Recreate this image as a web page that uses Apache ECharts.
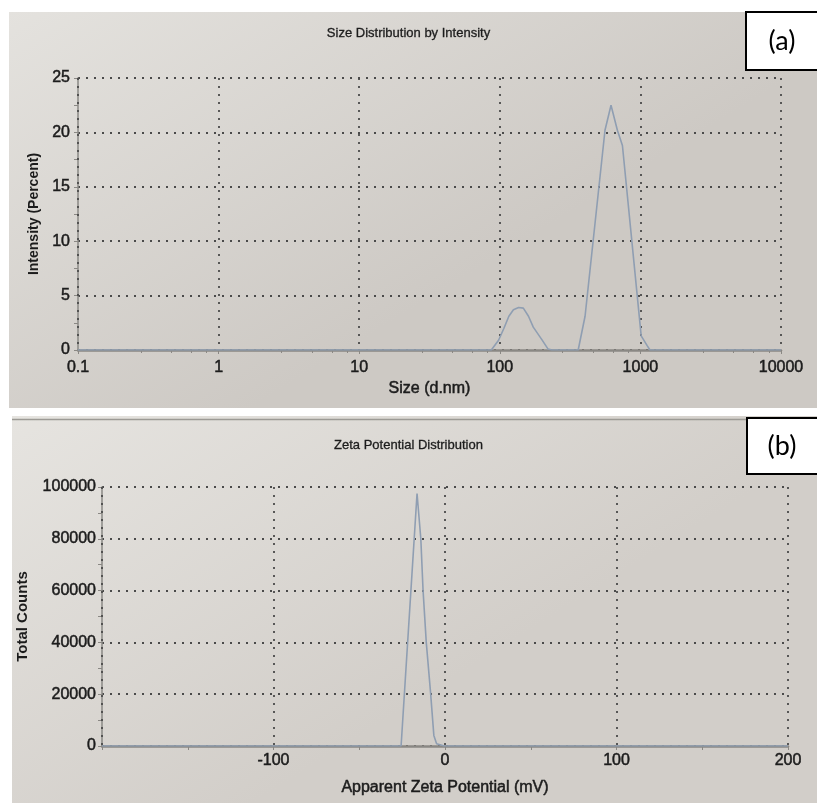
<!DOCTYPE html>
<html>
<head>
<meta charset="UTF-8">
<title>Size / Zeta</title>
<script src="https://cdn.jsdelivr.net/npm/echarts@6/dist/echarts.min.js"></script>
<style>
  html, body { margin: 0; padding: 0; background: #fff; }
  #chart { width: 817px; height: 803px; }
</style>
</head>
<body>
<div id="chart"></div>
<script>
// (a) size distribution, log x axis
const sizeNm = [0.1, 87, 98, 107, 116, 125, 136, 147, 160, 173, 198, 220, 235,
  361, 404, 560, 618, 686, 745, 1013, 1117, 1170, 10000];
const intensity = [0, 0, 0.9, 2.0, 3.1, 3.7, 3.9, 3.85, 3.1, 2.1, 1.0, 0.1, 0,
  0, 3.1, 20.2, 22.5, 20.2, 18.8, 1.3, 0.4, 0, 0];
const sizeTicks = ['0.1', '1', '10', '100', '1000', '10000'];

// (b) zeta potential distribution
const zetaMv = [-200, -25.6, -21.9, -16.3, -14.1, -12.8, -10.9, -8.5, -6.5, -4.9, -0.5, 200];
const totalCounts = [0, 0, 38800, 97500, 80000, 60200, 39800, 21300, 4100, 900, 0, 0];

const chart = echarts.init(document.getElementById('chart'));

const txt = '#1c1c1c';
const axisGray = '#8a8884';
const dotted = { color: '#4a4a4a', type: [2, 6], width: 1.8 };
const curve = '#8f9eb2';
const font = 'Liberation Sans, Arial, sans-serif';
// slightly heavier look for the printed labels
const labelStyle = { fontSize: 16, color: txt, textBorderColor: txt, textBorderWidth: 0.5 };

const option = {
  backgroundColor: '#ffffff',
  animation: false,
  textStyle: { fontFamily: font },
  title: [
    { text: 'Size Distribution by Intensity', left: 'center', top: 22,
      textStyle: { fontSize: 13, fontWeight: 'normal', color: txt, textBorderColor: txt, textBorderWidth: 0.3 } },
    { text: 'Zeta Potential Distribution', left: 'center', top: 434,
      textStyle: { fontSize: 13, fontWeight: 'normal', color: txt, textBorderColor: txt, textBorderWidth: 0.3 } }
  ],
  graphic: [
    { type: 'rect', z: -10, shape: { x: 9, y: 12, width: 808, height: 396 },
      style: { fill: new echarts.graphic.LinearGradient(0, 0, 0.3, 1, [
        { offset: 0, color: '#e4e2de' }, { offset: 1, color: '#cdc9c4' }]) } },
    { type: 'rect', z: -10, shape: { x: 12, y: 416, width: 805, height: 387 },
      style: { fill: new echarts.graphic.LinearGradient(0, 0, 0.3, 1, [
        { offset: 0, color: '#e6e4e0' }, { offset: 1, color: '#d2cec9' }]) } },
    { type: 'line', z: -9, shape: { x1: 12, y1: 419.5, x2: 817, y2: 419.5 },
      style: { stroke: '#9c9a95', lineWidth: 1.5 } },
    { type: 'rect', z: 10, shape: { x: 746, y: 12, width: 80, height: 58 },
      style: { fill: '#ffffff', stroke: '#000', lineWidth: 2 } },
    { type: 'text', z: 11, x: 782, y: 41,
      style: { text: '(a)', font: '27px Lato, "Open Sans", sans-serif',
        fill: '#000', align: 'center', verticalAlign: 'middle' } },
    { type: 'rect', z: 10, shape: { x: 747, y: 418, width: 80, height: 56 },
      style: { fill: '#ffffff', stroke: '#000', lineWidth: 2 } },
    { type: 'text', z: 11, x: 782, y: 446,
      style: { text: '(b)', font: '27px Lato, "Open Sans", sans-serif',
        fill: '#000', align: 'center', verticalAlign: 'middle' } }
  ],
  grid: [
    { left: 78, top: 78, width: 703, height: 272 },
    { left: 102, top: 487, width: 686, height: 259 }
  ],
  xAxis: [
    {
      gridIndex: 0, z: 3, type: 'log', logBase: 10, min: 0.1, max: 10000,
      name: 'Size (d.nm)', nameLocation: 'middle', nameGap: 31,
      nameTextStyle: labelStyle,
      axisLine: { lineStyle: { color: axisGray, width: 2.5 } },
      axisTick: { show: true, length: 4, lineStyle: { color: axisGray } },
      minorTick: { show: true, length: 3, lineStyle: { color: axisGray } },
      axisLabel: Object.assign({ margin: 10,
        formatter: v => sizeTicks.find(t => Math.abs(parseFloat(t) - v) < v * 1e-6) || '' }, labelStyle),
      splitLine: { show: true, lineStyle: dotted }
    },
    {
      gridIndex: 1, z: 3, type: 'value', min: -200, max: 200, interval: 100,
      name: 'Apparent Zeta Potential (mV)', nameLocation: 'middle', nameGap: 34,
      nameTextStyle: labelStyle,
      axisLine: { lineStyle: { color: axisGray, width: 2.5 } },
      axisTick: { show: true, length: 4, lineStyle: { color: axisGray } },
      minorTick: { show: true, splitNumber: 2, length: 4, lineStyle: { color: axisGray } },
      axisLabel: Object.assign({ margin: 7,
        formatter: v => (v === -200 ? '' : String(v)) }, labelStyle),
      splitLine: { show: true, lineStyle: dotted }
    }
  ],
  yAxis: [
    {
      gridIndex: 0, type: 'value', min: 0, max: 25, interval: 5,
      name: 'Intensity (Percent)', nameLocation: 'middle', nameGap: 34,
      nameTextStyle: { fontSize: 14, fontWeight: 'bold', color: txt },
      axisLine: { show: true, onZero: false, lineStyle: { color: axisGray, width: 1.5 } },
      axisTick: { show: true, length: 4, lineStyle: { color: axisGray } },
      minorTick: { show: true, splitNumber: 2, length: 4, lineStyle: { color: axisGray } },
      axisLabel: Object.assign({ margin: 8 }, labelStyle),
      splitLine: { show: true, lineStyle: dotted }
    },
    {
      gridIndex: 1, type: 'value', min: 0, max: 100000, interval: 20000,
      name: 'Total Counts', nameLocation: 'middle', nameGap: 72,
      nameTextStyle: { fontSize: 15, fontWeight: 'bold', color: txt },
      axisLine: { show: true, onZero: false, lineStyle: { color: axisGray, width: 1.5 } },
      axisTick: { show: true, length: 4, lineStyle: { color: axisGray } },
      minorTick: { show: true, splitNumber: 2, length: 4, lineStyle: { color: axisGray } },
      axisLabel: Object.assign({ margin: 6, formatter: v => String(v) }, labelStyle),
      splitLine: { show: true, lineStyle: dotted }
    }
  ],
  series: [
    {
      type: 'line', xAxisIndex: 0, yAxisIndex: 0, showSymbol: false, z: 4,
      data: sizeNm.map((x, i) => [x, intensity[i]]),
      lineStyle: { color: curve, width: 1.6 }
    },
    {
      type: 'line', xAxisIndex: 1, yAxisIndex: 1, showSymbol: false, z: 4,
      data: zetaMv.map((x, i) => [x, totalCounts[i]]),
      lineStyle: { color: curve, width: 1.6 }
    }
  ]
};

chart.setOption(option);
</script>
</body>
</html>
